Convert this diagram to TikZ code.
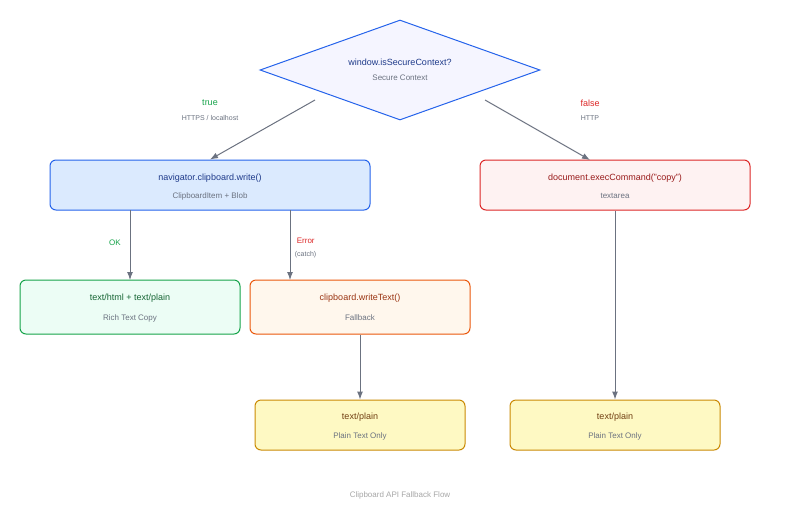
\documentclass[tikz,border=0pt]{standalone}
\usepackage{fontspec}
\setmainfont{Liberation Sans}
\usetikzlibrary{arrows.meta,positioning,shapes.geometric}
\definecolor{blueln}{HTML}{2563EB}
\definecolor{bluebg}{HTML}{DBEAFE}
\definecolor{bluetx}{HTML}{1E3A8A}
\definecolor{redln}{HTML}{DC2626}
\definecolor{redbg}{HTML}{FEF2F2}
\definecolor{redtx}{HTML}{991B1B}
\definecolor{grnln}{HTML}{16A34A}
\definecolor{grnbg}{HTML}{ECFDF5}
\definecolor{grntx}{HTML}{166534}
\definecolor{orgln}{HTML}{EA580C}
\definecolor{orgbg}{HTML}{FFF7ED}
\definecolor{orgtx}{HTML}{9A3412}
\definecolor{ylwln}{HTML}{CA8A04}
\definecolor{ylwbg}{HTML}{FEF9C3}
\definecolor{ylwtx}{HTML}{713F12}
\definecolor{subtx}{HTML}{6B7280}
\definecolor{arrln}{HTML}{6B7280}

\begin{document}
\begin{tikzpicture}[x=1pt,y=-1pt,
            box/.style={draw,rounded corners=6pt,line width=1pt,align=center,inner sep=0pt},
            sub/.style={font=\fontsize{8}{10}\selectfont,text=subtx},
            lbl/.style={font=\fontsize{9}{11}\selectfont},
            every path/.style={line width=1pt},
            arr/.style={draw=arrln,-{Latex[length=8pt,width=6pt]}}
          ]
          \useasboundingbox (0,0) rectangle (800,520);
          %decision
          \node[diamond,draw=blueln,fill=blue!4,line width=1pt,minimum width=280pt,minimum height=100pt,inner sep=0pt,aspect=2.8] (dia) at (400,70) {};
          \node[lbl,text=bluetx] at (400,62) {window.isSecureContext?};
          \node[sub] at (400,78) {Secure Context};

          %boxes
          \node[box,draw=blueln,fill=bluebg,minimum width=320pt,minimum height=50pt] (write) at (210,185) {};
          \node[box,draw=redln,fill=redbg,minimum width=270pt,minimum height=50pt] (exec) at (615,185) {};
          \node[box,draw=grnln,fill=grnbg,minimum width=220pt,minimum height=54pt] (rich) at (130,307) {};
          \node[box,draw=orgln,fill=orgbg,minimum width=220pt,minimum height=54pt] (wtext) at (360,307) {};
          \node[box,draw=ylwln,fill=ylwbg,minimum width=210pt,minimum height=50pt] (plainA) at (360,425) {};
          \node[box,draw=ylwln,fill=ylwbg,minimum width=210pt,minimum height=50pt] (plainB) at (615,425) {};

          %box texts
          \node[lbl,text=bluetx] at (210,178) {navigator.clipboard.write()};
          \node[sub] at (210,196) {ClipboardItem + Blob};
          \node[lbl,text=redtx] at (615,178) {document.execCommand("copy")};
          \node[sub] at (615,196) {textarea};
          \node[lbl,text=grntx] at (130,298) {text/html + text/plain};
          \node[sub] at (130,318) {Rich Text Copy};
          \node[lbl,text=orgtx] at (360,298) {clipboard.writeText()};
          \node[sub] at (360,318) {Fallback};
          \node[lbl,text=ylwtx] at (360,417) {text/plain};
          \node[sub] at (360,436) {Plain Text Only};
          \node[lbl,text=ylwtx] at (615,417) {text/plain};
          \node[sub] at (615,436) {Plain Text Only};

          %connectors
          \coordinate (dL) at (315,100);
          \coordinate (dR) at (485,100);
          \coordinate (eT) at (590,160);
          \coordinate (wL) at (130,210);
          \coordinate (wR) at (290,210);
          \coordinate (rT) at (130,280);
          \coordinate (oT) at (290,280);
          \path[arr] (dL) -- (write.north);
          \path[arr] (dR) -- (eT);
          \path[arr] (wL) -- (rT);
          \path[arr] (wR) -- (oT);
          \path[arr] (wtext.south) -- (plainA.north);
          \path[arr] (exec.south) -- (plainB.north);

          %labels
          \node[lbl,text=grnln] at (210,103) {true};
          \node[sub,font=\fontsize{7}{9}\selectfont] at (210,118) {HTTPS / localhost};
          \node[lbl,text=redln] at (590,103) {false};
          \node[sub,font=\fontsize{7}{9}\selectfont] at (590,118) {HTTP};
          \node[lbl,text=grnln,font=\fontsize{8}{10}\selectfont] at (115,243) {OK};
          \node[lbl,text=redln,font=\fontsize{8}{10}\selectfont,anchor=west] at (293,241) {Error};
          \node[sub,font=\fontsize{7}{9}\selectfont,anchor=west] at (291,255) {(catch)};
          \node[sub,text=gray!70] at (400,495) {Clipboard API Fallback Flow};
      \end{tikzpicture}
\end{document}
